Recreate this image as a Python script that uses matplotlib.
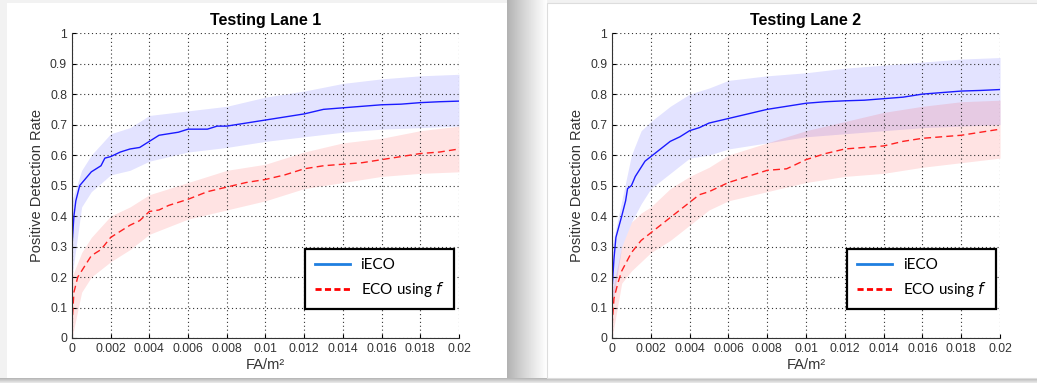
import numpy as np
import matplotlib.pyplot as plt
from matplotlib.lines import Line2D

plt.rcParams['font.family'] = ['Liberation Sans', 'DejaVu Sans']

# ---- data ----
titles = ["Testing Lane 1", "Testing Lane 2"]
x_ticks = [0, 0.002, 0.004, 0.006, 0.008, 0.01, 0.012, 0.014, 0.016, 0.018, 0.02]
x_tick_labels = ["0", "0.002", "0.004", "0.006", "0.008", "0.01", "0.012",
                 "0.014", "0.016", "0.018", "0.02"]
y_ticks = [0, 0.1, 0.2, 0.3, 0.4, 0.5, 0.6, 0.7, 0.8, 0.9, 1]
y_tick_labels = ["0", "0.1", "0.2", "0.3", "0.4", "0.5", "0.6", "0.7", "0.8", "0.9", "1"]

# lane 1
l1_ieco_x = [0.00002, 0.0001, 0.0002, 0.0004, 0.0008, 0.001, 0.0015, 0.0017, 0.002,
             0.0025, 0.003, 0.0035, 0.004, 0.0045, 0.005, 0.0055, 0.006, 0.007, 0.0075,
             0.008, 0.009, 0.01, 0.011, 0.012, 0.013, 0.014, 0.015, 0.016, 0.017,
             0.018, 0.019, 0.02]
l1_ieco_y = [0.32, 0.40, 0.45, 0.50, 0.53, 0.545, 0.565, 0.59, 0.595,
             0.61, 0.62, 0.625, 0.645, 0.665, 0.67, 0.675, 0.685, 0.685, 0.695,
             0.695, 0.705, 0.715, 0.725, 0.735, 0.75, 0.755, 0.76, 0.765, 0.767,
             0.772, 0.775, 0.777]
l1_band_x = [0, 0.0005, 0.001, 0.002, 0.003, 0.004, 0.006, 0.008, 0.01, 0.012, 0.014,
             0.016, 0.018, 0.02]
l1_ieco_hi = [0.45, 0.55, 0.60, 0.67, 0.69, 0.73, 0.745, 0.76, 0.79, 0.81, 0.835,
              0.85, 0.86, 0.865]
l1_ieco_lo = [0.20, 0.43, 0.48, 0.535, 0.55, 0.58, 0.61, 0.625, 0.645, 0.66, 0.675,
              0.685, 0.69, 0.695]
l1_eco_x = [0, 0.0001, 0.0003, 0.0005, 0.001, 0.0015, 0.002, 0.003, 0.0035, 0.004,
            0.0045, 0.005, 0.006, 0.007, 0.008, 0.009, 0.01, 0.011, 0.012, 0.013,
            0.014, 0.015, 0.016, 0.017, 0.018, 0.019, 0.02]
l1_eco_y = [0.04, 0.15, 0.20, 0.22, 0.27, 0.29, 0.33, 0.37, 0.385, 0.415,
            0.42, 0.435, 0.455, 0.48, 0.495, 0.51, 0.52, 0.535, 0.555, 0.565,
            0.57, 0.575, 0.585, 0.595, 0.605, 0.61, 0.62]
l1_eco_hi = [0.20, 0.28, 0.33, 0.40, 0.43, 0.47, 0.51, 0.55, 0.57, 0.61, 0.64,
             0.655, 0.68, 0.695]
l1_eco_lo = [0.0, 0.15, 0.20, 0.25, 0.29, 0.34, 0.39, 0.42, 0.45, 0.49, 0.51,
             0.53, 0.54, 0.545]

# lane 2
l2_ieco_x = [0.00002, 0.0001, 0.0002, 0.0005, 0.0007, 0.0008, 0.001, 0.0012, 0.0015,
             0.0017, 0.002, 0.0025, 0.003, 0.0035, 0.004, 0.0045, 0.005, 0.006, 0.007,
             0.008, 0.009, 0.01, 0.011, 0.012, 0.013, 0.014, 0.015, 0.016, 0.017,
             0.018, 0.019, 0.02]
l2_ieco_y = [0.18, 0.26, 0.33, 0.40, 0.45, 0.49, 0.50, 0.53, 0.56,
             0.58, 0.595, 0.62, 0.645, 0.66, 0.68, 0.69, 0.705, 0.72, 0.735,
             0.75, 0.76, 0.77, 0.775, 0.778, 0.78, 0.785, 0.79, 0.80, 0.805,
             0.81, 0.812, 0.815]
l2_band_x = [0, 0.0005, 0.001, 0.0015, 0.002, 0.003, 0.004, 0.005, 0.006, 0.008,
             0.01, 0.012, 0.014, 0.016, 0.018, 0.02]
l2_ieco_hi = [0.30, 0.45, 0.60, 0.68, 0.71, 0.76, 0.80, 0.82, 0.845, 0.86,
              0.87, 0.885, 0.895, 0.905, 0.915, 0.92]
l2_ieco_lo = [0.10, 0.30, 0.38, 0.44, 0.49, 0.54, 0.59, 0.60, 0.62, 0.64,
              0.66, 0.67, 0.68, 0.69, 0.695, 0.70]
l2_eco_x = [0, 0.0001, 0.0003, 0.0005, 0.001, 0.0015, 0.002, 0.0025, 0.003, 0.0035,
            0.004, 0.0045, 0.005, 0.006, 0.007, 0.008, 0.009, 0.01, 0.011, 0.012,
            0.013, 0.014, 0.015, 0.016, 0.017, 0.018, 0.019, 0.02]
l2_eco_y = [0.04, 0.13, 0.18, 0.22, 0.28, 0.32, 0.345, 0.37, 0.395, 0.42,
            0.445, 0.47, 0.48, 0.51, 0.53, 0.55, 0.555, 0.585, 0.605, 0.62,
            0.625, 0.63, 0.645, 0.655, 0.66, 0.665, 0.675, 0.685]
l2_eco_hi = [0.15, 0.30, 0.38, 0.41, 0.43, 0.49, 0.53, 0.56, 0.60, 0.64,
             0.68, 0.71, 0.74, 0.76, 0.775, 0.78]
l2_eco_lo = [0.0, 0.18, 0.22, 0.25, 0.28, 0.32, 0.37, 0.42, 0.45, 0.48,
             0.51, 0.53, 0.54, 0.56, 0.575, 0.59]

lanes = [
    (l1_ieco_x, l1_ieco_y, l1_band_x, l1_ieco_hi, l1_ieco_lo,
     l1_eco_x, l1_eco_y, l1_band_x, l1_eco_hi, l1_eco_lo),
    (l2_ieco_x, l2_ieco_y, l2_band_x, l2_ieco_hi, l2_ieco_lo,
     l2_eco_x, l2_eco_y, l2_band_x, l2_eco_hi, l2_eco_lo),
]

fig = plt.figure(figsize=(10.37, 3.83), dpi=100)
fig.patch.set_facecolor('#f2f2f2')

# background "screenshot cards" with shadows
bg = fig.add_axes([0, 0, 1, 1], zorder=-10)
bg.axis('off')
grad = np.linspace(0.55, 1.0, 60) ** 0.6
bg.imshow(np.tile(grad, (10, 1)), cmap='gray', vmin=0, vmax=1,
          extent=(507, 547, 383, 0), aspect='auto')
bg.imshow(np.tile(grad, (10, 1)).T, cmap='gray', vmin=0, vmax=1,
          extent=(0, 1037, 385, 378), aspect='auto')
bg.add_patch(plt.Rectangle((7, 3), 500, 375, facecolor='white', edgecolor='none'))
bg.add_patch(plt.Rectangle((547, 3), 495, 375, facecolor='white', edgecolor='#dddddd',
                           lw=0.8))
bg.set_xlim(0, 1037)
bg.set_ylim(383, 0)

axes_pos = [[0.0694, 0.1175, 0.3732, 0.796], [0.5902, 0.1175, 0.3742, 0.796]]
legend_anchor = [(0.987, 0.095), (0.99, 0.095)]

for i, pos in enumerate(axes_pos):
    ax = fig.add_axes(pos)
    ieco_x, ieco_y, bx1, ihi, ilo, eco_x, eco_y, bx2, ehi, elo = lanes[i]
    ax.fill_between(bx1, ilo, ihi, color='#0000ff', alpha=0.11, lw=0)
    ax.fill_between(bx2, elo, ehi, color='#ff0000', alpha=0.11, lw=0)
    ax.plot(ieco_x, ieco_y, color='#1a1aff', lw=1.0)
    ax.plot(eco_x, eco_y, color='#ff2020', lw=1.0, dashes=(5, 3))
    ax.set_xlim(0, 0.02)
    ax.set_ylim(0, 1)
    ax.set_xticks(x_ticks)
    ax.set_xticklabels(x_tick_labels)
    ax.set_yticks(y_ticks)
    ax.set_yticklabels(y_tick_labels)
    ax.tick_params(direction='in', length=3, labelsize=8.8, labelcolor='#333333',
                   width=0.8, pad=3.5)
    ax.grid(True, color='#333333', linestyle=(0, (1, 2.5)), lw=0.8)
    for s in ['top', 'right']:
        ax.spines[s].set_visible(False)
    for s in ['left', 'bottom']:
        ax.spines[s].set_color('#333333')
    ax.set_title(titles[i], fontsize=11.5, fontweight='bold', pad=6)
    ax.set_xlabel('FA/m²', fontsize=10.5, color='#333333', labelpad=2)
    ax.set_ylabel('Positive Detection Rate', fontsize=10.5, color='#333333', labelpad=4)

    handles = [Line2D([], [], color='#1f7fe0', lw=2),
               Line2D([], [], color='#ff0000', lw=2, dashes=(2.2, 1.2))]
    leg = ax.legend(handles, ['iECO', 'ECO using $f$'], loc='lower right',
                    bbox_to_anchor=legend_anchor[i], frameon=True,
                    fancybox=False, framealpha=1, edgecolor='black',
                    handlelength=2.3, handletextpad=0.7, borderpad=0.65,
                    labelspacing=0.5, borderaxespad=0,
                    prop={'family': 'Lato', 'size': 11})
    leg.get_frame().set_linewidth(1.6)

fig.savefig('out.png', dpi=100, facecolor=fig.get_facecolor())
